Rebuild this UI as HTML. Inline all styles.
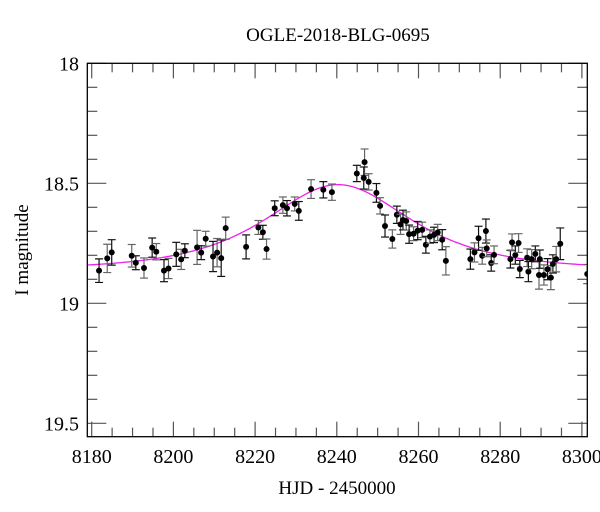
<!DOCTYPE html>
<html><head><meta charset="utf-8"><style>
html,body{margin:0;padding:0;background:#fff;width:600px;height:512px;overflow:hidden}
svg{display:block}
text{font-family:"Liberation Serif",serif;fill:#000}
</style></head><body>
<svg id="chart" width="600" height="512" viewBox="0 0 600 512" xmlns="http://www.w3.org/2000/svg">
<defs><clipPath id="plotclip"><rect x="87.3" y="63.3" width="500" height="373.4"/></clipPath></defs>
<text x="338" y="41" font-size="19" text-anchor="middle">OGLE-2018-BLG-0695</text>
<text x="337" y="494" font-size="19" text-anchor="middle">HJD - 2450000</text>
<text transform="translate(28,250) rotate(-90)" font-size="19" text-anchor="middle">I magnitude</text>
<g id="axes"></g>
<g id="model" clip-path="url(#plotclip)"></g>
<g id="points" clip-path="url(#plotclip)"></g>
<rect x="87.3" y="63.3" width="500" height="373.4" fill="none" stroke="#000" stroke-width="1.3"/>
</svg>
<script>
const days=[8181.8,8183.8,8184.9,8189.8,8190.8,8192.8,8194.8,8195.8,8197.7,8198.8,8200.7,8201.9,8202.8,8205.8,8206.8,8207.9,8209.7,8210.7,8211.7,8212.8,8217.8,8220.8,8221.9,8222.8,8224.8,8226.8,8227.8,8229.7,8230.7,8233.7,8236.7,8238.8,8244.9,8246.8,8246.6,8247.8,8249.7,8250.6,8251.8,8253.6,8254.7,8255.6,8256.2,8257.0,8257.7,8258.8,8259.8,8260.9,8261.8,8262.8,8263.8,8264.7,8265.8,8266.7,8272.7,8273.7,8274.7,8275.6,8276.5,8276.7,8277.8,8278.5,8282.5,8282.9,8283.7,8284.5,8284.8,8286.6,8286.9,8287.7,8288.6,8289.5,8289.7,8290.7,8291.6,8292.4,8292.9,8293.7,8294.7,8301.3];
const mags=[18.864,18.813,18.788,18.802,18.831,18.853,18.768,18.785,18.864,18.855,18.796,18.817,18.781,18.767,18.789,18.731,18.805,18.789,18.812,18.687,18.765,18.684,18.704,18.774,18.604,18.591,18.604,18.586,18.615,18.524,18.527,18.537,18.459,18.412,18.478,18.494,18.540,18.594,18.678,18.732,18.631,18.671,18.653,18.657,18.712,18.710,18.697,18.694,18.756,18.722,18.715,18.705,18.735,18.823,18.816,18.788,18.729,18.802,18.699,18.771,18.832,18.798,18.816,18.746,18.799,18.749,18.857,18.810,18.868,18.816,18.794,18.882,18.816,18.882,18.858,18.893,18.836,18.816,18.752,18.878];
const errs=[0.049,0.059,0.053,0.047,0.029,0.042,0.040,0.034,0.046,0.042,0.050,0.042,0.029,0.071,0.029,0.031,0.063,0.059,0.076,0.046,0.050,0.029,0.029,0.042,0.031,0.034,0.032,0.029,0.039,0.039,0.034,0.034,0.034,0.055,0.046,0.034,0.039,0.034,0.046,0.038,0.036,0.042,0.041,0.038,0.038,0.029,0.038,0.032,0.035,0.028,0.032,0.034,0.042,0.059,0.042,0.040,0.050,0.035,0.050,0.035,0.034,0.037,0.037,0.035,0.038,0.039,0.036,0.037,0.042,0.040,0.033,0.059,0.038,0.042,0.044,0.050,0.038,0.053,0.066,0.040];
const xTicksMajor=[8180,8200,8220,8240,8260,8280,8300];
const yTicksMajor=[18,18.5,19,19.5];
const yTickLabels=["18","18.5","19","19.5"];
const modelT0=[8240.3], modelTE=[21.3], modelU0=[1.0], modelI0=[18.86], modelFs=[1.13];

const NS="http://www.w3.org/2000/svg";
const X0=87.3,X1=587.3,Y0=63.3,Y1=436.7;
const dMin=8180-(91.7-87.3)/4.085, dMax=dMin+500/4.085;
const mMin=18, mMax=18+(Y1-Y0)/240;
function sx(d){return X0+(d-dMin)/(dMax-dMin)*(X1-X0);}
function sy(m){return Y0+(m-mMin)/(mMax-mMin)*(Y1-Y0);}
function mk(tag,attrs,parent){const e=document.createElementNS(NS,tag);for(const k in attrs)e.setAttribute(k,attrs[k]);parent.appendChild(e);return e;}

const axes=document.getElementById('axes');
for(let d=8180;d<=8300;d+=5){
  const major=xTicksMajor.includes(d);const L=major?15:9;const x=sx(d);
  const t1=mk('line',{x1:x,y1:Y1,x2:x,y2:Y1-L,stroke:'#555','stroke-width':1.2},axes);
  
  
  const t2=mk('line',{x1:x,y1:Y0,x2:x,y2:Y0+L,stroke:'#555','stroke-width':1.2},axes);
  
  
}
xTicksMajor.forEach(d=>{
  const t=mk('text',{x:sx(d),y:463,'font-size':20,'text-anchor':'middle'},axes);
  t.textContent=String(d);
  
  
});
for(let i=0;i<=15;i++){
  const m=18+i*0.1;const major=(i%5===0);const L=major?19:10;const y=sy(m);
  if(y>Y1)continue;
  const t1=mk('line',{x1:X0,y1:y,x2:X0+L,y2:y,stroke:'#555','stroke-width':1.2},axes);
  
  
  const t2=mk('line',{x1:X1,y1:y,x2:X1-L,y2:y,stroke:'#555','stroke-width':1.2},axes);
  
  
}
yTicksMajor.forEach((m,i)=>{
  const t=mk('text',{x:79,y:sy(m)+7,'font-size':20,'text-anchor':'end'},axes);
  t.textContent=yTickLabels[i];
  
  
});
function magn(u){return (u*u+2)/(u*Math.sqrt(u*u+4));}
let pts=[];
for(let d=dMin;d<=dMax;d+=0.5){
  const x=(d-modelT0[0])/modelTE[0];const u=Math.sqrt(modelU0[0]**2+x*x);
  const m=modelI0[0]-2.5*Math.log10(modelFs[0]*(magn(u)-1)+1);
  pts.push(sx(d).toFixed(2)+','+sy(m).toFixed(2));
}
const mp=mk('polyline',{points:pts.join(' '),fill:'none',stroke:'#ee22ee','stroke-width':1.3},document.getElementById('model'));


const pg=document.getElementById('points');
days.forEach((d,i)=>{
  const x=sx(d),y=sy(mags[i]),ya=sy(mags[i]-errs[i]),yb=sy(mags[i]+errs[i]);
  const col=(i%2)?'#666':'#111';
  const g=mk('g',{},pg);
  
  
  mk('line',{x1:x,y1:ya,x2:x,y2:yb,stroke:col,'stroke-width':1.2},g);
  mk('line',{x1:x-4,y1:ya,x2:x+4,y2:ya,stroke:col,'stroke-width':1.2},g);
  mk('line',{x1:x-4,y1:yb,x2:x+4,y2:yb,stroke:col,'stroke-width':1.2},g);
  mk('circle',{cx:x,cy:y,r:3,fill:'#000'},g);
});
</script>
</body></html>
